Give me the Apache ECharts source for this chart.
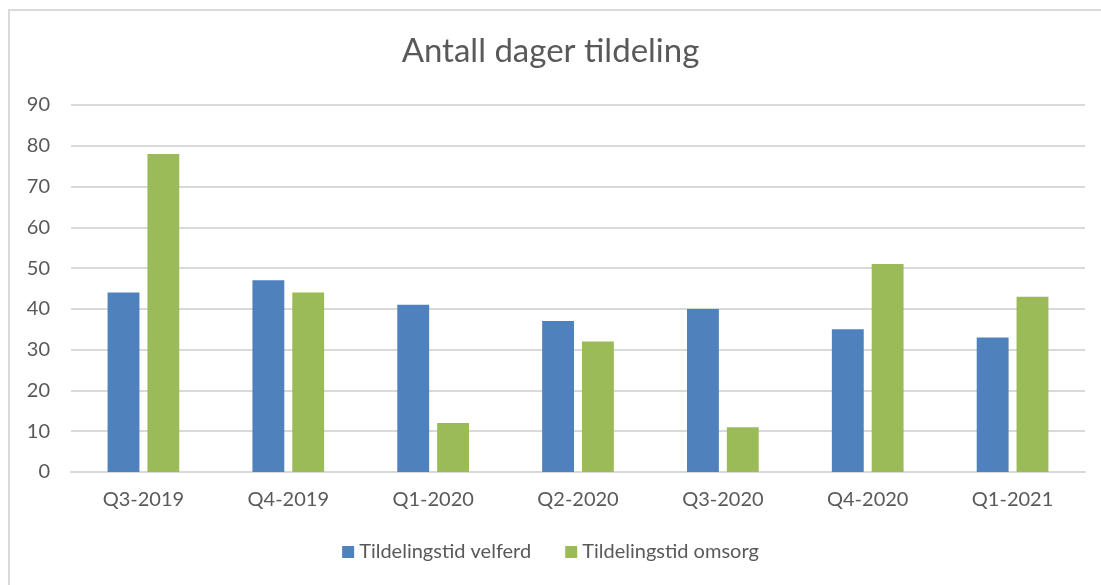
<!DOCTYPE html>
<html>
<head>
<meta charset="utf-8">
<script src="https://cdn.jsdelivr.net/npm/echarts@6/dist/echarts.min.js"></script>
<style>
html, body { margin: 0; padding: 0; background: #fff; }
#frame { position: absolute; left: 8px; top: 9px; width: 1100px; height: 590px; border: 2px solid #d9d9d9; box-sizing: border-box; }
#chart { position: absolute; left: 0; top: 0; width: 1101px; height: 585px; }
</style>
</head>
<body>
<div id="frame"></div>
<div id="chart"></div>
<script>
var categories = ['Q3-2019', 'Q4-2019', 'Q1-2020', 'Q2-2020', 'Q3-2020', 'Q4-2020', 'Q1-2021'];
var velferd = [44, 47, 41, 37, 40, 35, 33];
var omsorg = [78, 44, 12, 32, 11, 51, 43];

var font = 'Lato, "Open Sans", sans-serif';
var chart = echarts.init(document.getElementById('chart'));
chart.setOption({
    animation: false,
    title: {
        text: 'Antall dager tildeling',
        left: 'center',
        top: 30,
        textStyle: { fontFamily: font, fontSize: 33, fontWeight: 'normal', color: '#595959' }
    },
    legend: {
        bottom: 18,
        left: 'center',
        itemWidth: 12,
        itemHeight: 12,
        itemGap: 34,
        icon: 'rect',
        textStyle: { fontFamily: font, fontSize: 20, color: '#595959' }
    },
    grid: { left: 71, right: 16, top: 105, bottom: 113 },
    xAxis: {
        type: 'category',
        data: categories,
        axisLine: { lineStyle: { color: '#d9d9d9', width: 2 } },
        axisTick: { show: false },
        axisLabel: { fontFamily: font, fontSize: 20, color: '#595959', margin: 18 }
    },
    yAxis: {
        type: 'value',
        min: 0,
        max: 90,
        interval: 10,
        axisLine: { show: false },
        axisTick: { show: false },
        splitLine: { lineStyle: { color: '#d9d9d9', width: 2 } },
        axisLabel: { fontFamily: font, fontSize: 20, color: '#595959', margin: 21, align: 'right' }
    },
    series: [
        {
            name: 'Tildelingstid velferd',
            type: 'bar',
            data: velferd,
            barWidth: '22%',
            barGap: '25%',
            itemStyle: { color: '#4f81bd' }
        },
        {
            name: 'Tildelingstid omsorg',
            type: 'bar',
            data: omsorg,
            barWidth: '22%',
            itemStyle: { color: '#9bbb59' }
        }
    ]
});
</script>
</body>
</html>
